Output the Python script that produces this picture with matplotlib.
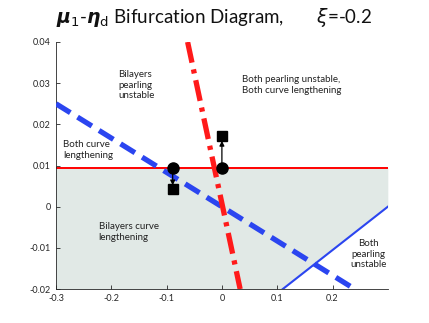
import numpy as np
import matplotlib.pyplot as plt

plt.rcParams['font.family'] = ['Lato', 'DejaVu Sans']

# ---- data ----
xlim = [-0.3, 0.3]
ylim = [-0.02, 0.04]
xticks = [-0.3, -0.2, -0.1, 0, 0.1, 0.2]
yticks = [-0.02, -0.01, 0, 0.01, 0.02, 0.03, 0.04]

# horizontal boundary (red solid)
eta_level = 0.0095
# blue solid boundary
blue_solid_x = [0.11, 0.30]
blue_solid_y = [-0.02, 0.0]
# blue dashed boundary
blue_dash_x = [-0.30, 0.245]
blue_dash_y = [0.025, -0.0204]
# red dash-dot boundary
red_dd_x = [-0.062, 0.033]
red_dd_y = [0.04, -0.02]

# points (circles) and their shifted states (squares)
circle_x = [-0.089, 0.0]
circle_y = [0.0094, 0.0094]
square_x = [-0.089, 0.0]
square_y = [0.0043, 0.0172]

labels = [
    (-0.188, 0.0295, "Bilayers\npearling\nunstable", 'left'),
    (0.037, 0.0295, "Both pearling unstable,\nBoth curve lengthening", 'left'),
    (-0.287, 0.0137, "Both curve\nlengthening", 'left'),
    (-0.223, -0.0062, "Bilayers curve\nlengthening", 'left'),
    (0.265, -0.0115, "Both\npearling\nunstable", 'center'),
]

fig = plt.figure(figsize=(4.29, 3.23), dpi=100)
ax = fig.add_axes([0.1305, 0.105, 0.7735, 0.765])

# shaded region: below the red line, left of the blue solid line
xs = np.linspace(xlim[0], xlim[1], 400)
slope = (blue_solid_y[1] - blue_solid_y[0]) / (blue_solid_x[1] - blue_solid_x[0])
blue_line = blue_solid_y[0] + slope * (xs - blue_solid_x[0])
upper = np.full_like(xs, eta_level)
lower = np.maximum(np.full_like(xs, ylim[0]), np.minimum(blue_line, eta_level))
ax.fill_between(xs, lower, upper, color='#e1e9e6', lw=0, zorder=0)

ax.plot(xlim, [eta_level, eta_level], color='#ff0000', lw=1.4, zorder=2)
ax.plot(blue_solid_x, blue_solid_y, color='#2b45f0', lw=1.5, zorder=2)
ax.plot(blue_dash_x, blue_dash_y, color='#2b45f0', lw=3.8, ls=(0, (3.2, 1.6)), zorder=3)
ax.plot(red_dd_x, red_dd_y, color='#ff1a1a', lw=3.8, ls=(0, (4.0, 1.3, 0.8, 1.3)), zorder=3)

for cx, cy, sx, sy in zip(circle_x, circle_y, square_x, square_y):
    dy = 0.0012 if sy > cy else -0.0009
    ax.annotate('', xy=(sx, sy - dy), xytext=(cx, cy),
                arrowprops=dict(arrowstyle='-|>', color='black', lw=0.9,
                                mutation_scale=7, shrinkA=0, shrinkB=0), zorder=4)
ax.plot(circle_x, circle_y, 'o', color='black', ms=8, zorder=5)
ax.plot(square_x, square_y, 's', color='black', ms=7, zorder=5)

for x, y, txt, ha in labels:
    ax.text(x, y, txt, fontsize=7, ha=ha, va='center', color='#222222', linespacing=1.25)

ax.set_xlim(xlim)
ax.set_ylim(ylim)
ax.set_xticks(xticks)
ax.set_yticks(yticks)
ax.set_xticklabels(['-0.3', '-0.2', '-0.1', '0', '0.1', '0.2'])
ax.set_yticklabels(['-0.02', '-0.01', '0', '0.01', '0.02', '0.03', '0.04'])
ax.tick_params(direction='in', labelsize=6.5, colors='#262626', length=3, width=0.6)
for side in ['top', 'right']:
    ax.spines[side].set_visible(False)
for side in ['left', 'bottom']:
    ax.spines[side].set_color('#262626')
    ax.spines[side].set_linewidth(0.6)

fig.text(0.5, 0.945,
         r"$\boldsymbol{\mu}_1$-$\boldsymbol{\eta}_{\mathrm{d}}$ Bifurcation Diagram,       $\xi$=-0.2",
         ha='center', va='center', fontsize=13.5, color='#111111')

fig.savefig('out.png', dpi=100)
